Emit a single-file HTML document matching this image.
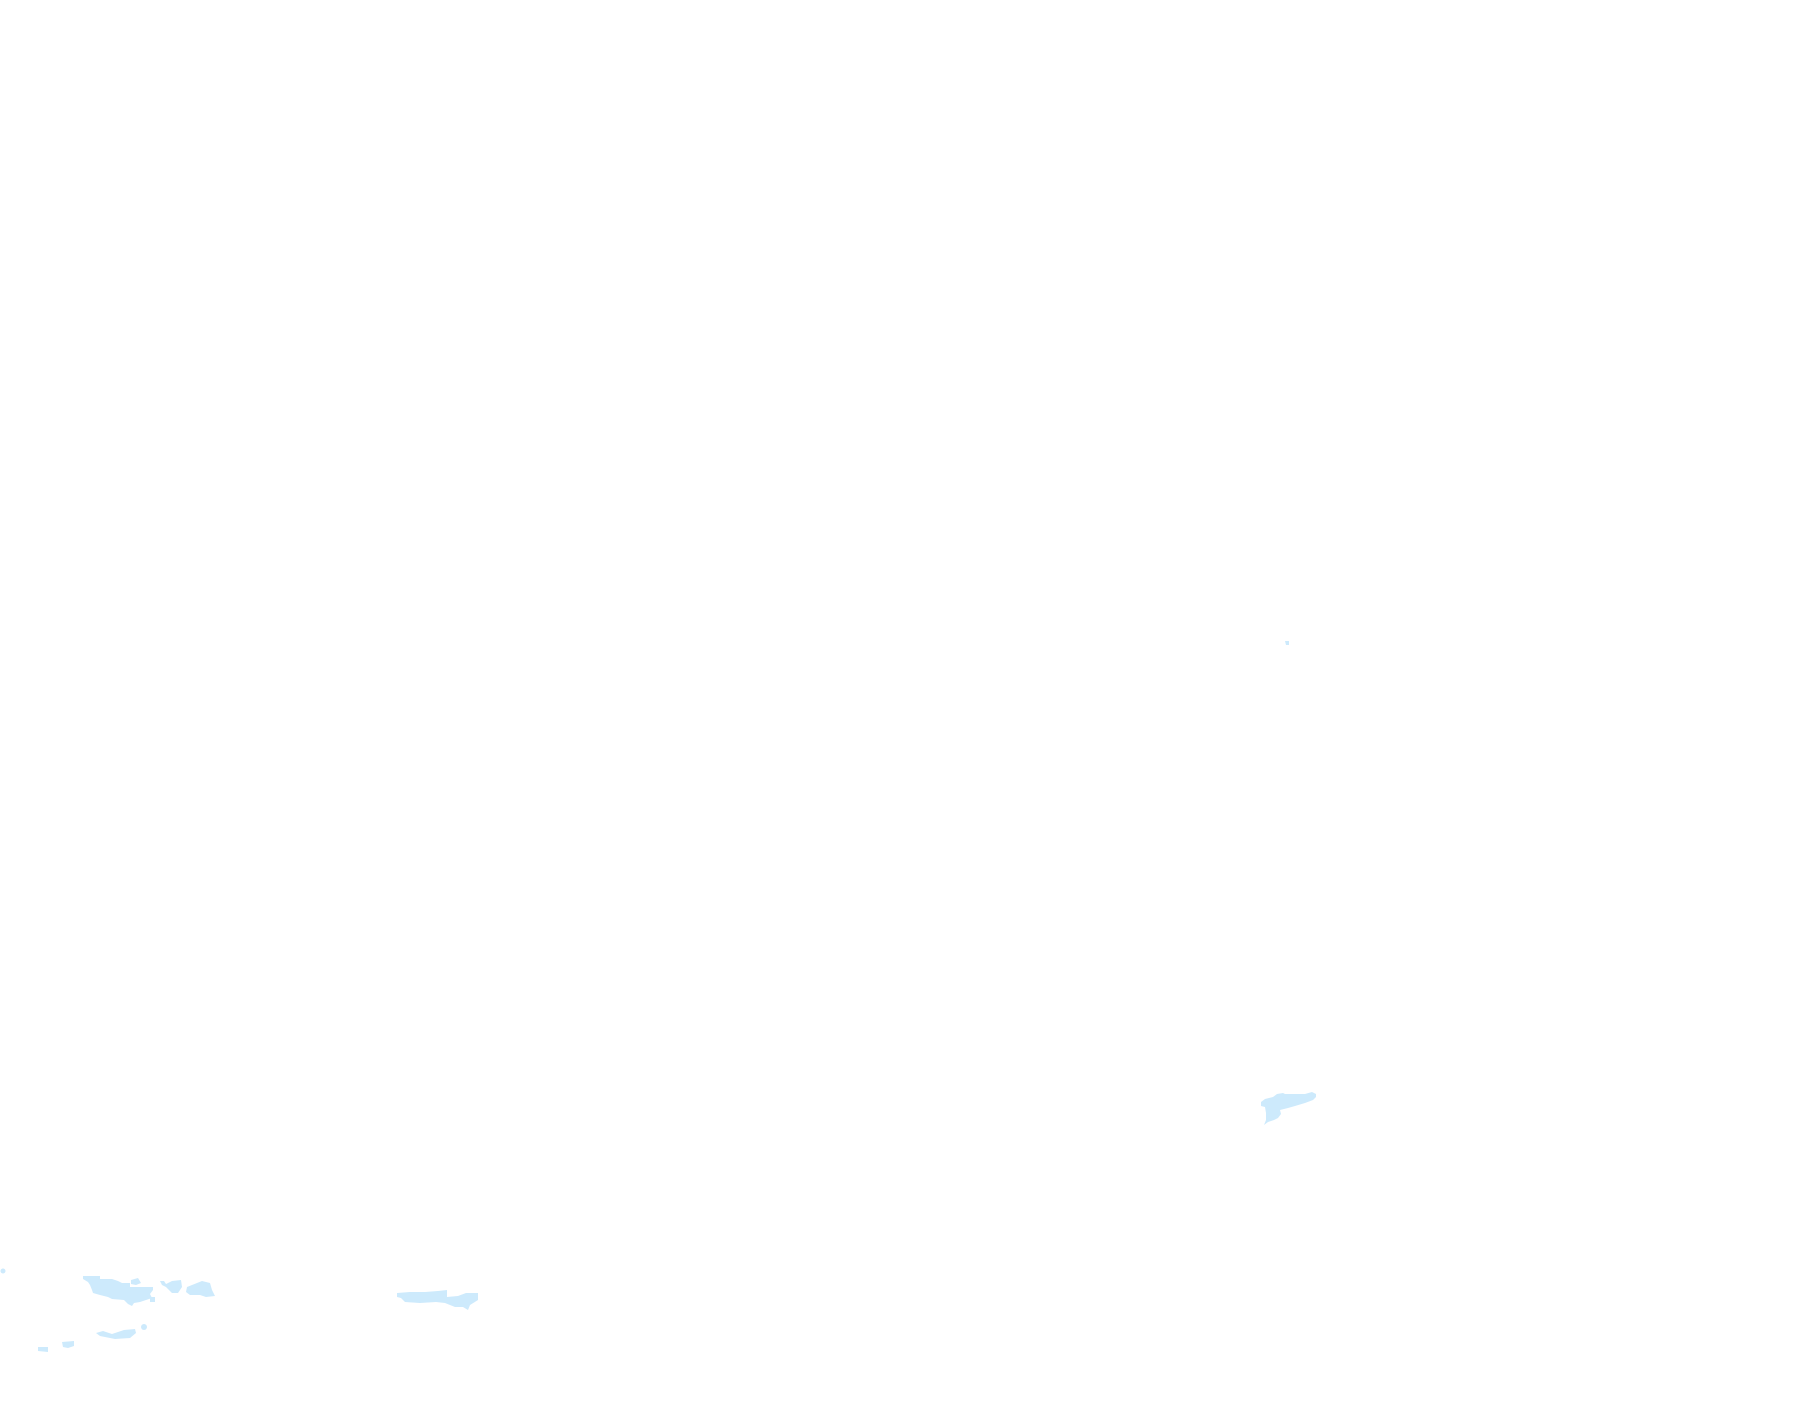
<!DOCTYPE html>
<html><head><meta charset="utf-8"><style>html,body{margin:0;padding:0;background:#fff;width:1815px;height:1424px;overflow:hidden}</style></head>
<body>
<svg width="1815" height="1424" xmlns="http://www.w3.org/2000/svg" style="display:block">
<g fill="#cdeafc">
<circle cx="3" cy="1271" r="2.5"/>
<polygon points="83,1276 100,1276 100,1279 112,1279 118,1281 122,1283 130,1283 130,1287 153,1287 153,1290 150,1294 152,1298 146,1300 140,1302 134,1303 132,1306 128,1304 124,1300 112,1299 108,1297 100,1295 93,1293 92,1290 90,1285 88,1282 83,1279"/>
<polygon points="131,1280 138,1278 141,1283 136,1285 131,1284"/>
<polygon points="150,1297 155,1297 155,1302 150,1302"/>
<polygon points="160,1281 164,1281 166,1284 172,1281 181,1280 182,1287 178,1293 172,1293 166,1287 162,1285"/>
<polygon points="187,1287 202,1281 210,1283 212,1290 215,1296 206,1297 200,1295 190,1295 186,1292"/>
<polygon points="397,1293 410,1292 425,1292 438,1291 447,1290 447,1297 458,1296 466,1293 478,1293 478,1300 470,1305 468,1310 463,1307 455,1307 445,1303 436,1302 420,1303 405,1302 401,1298 397,1297"/>
<polygon points="96,1333 103,1331 112,1334 124,1330 135,1329 136,1333 130,1338 115,1339 100,1336"/>
<circle cx="144" cy="1327" r="3"/>
<polygon points="62,1342 74,1341 74,1346 68,1348 63,1347"/>
<polygon points="38,1347 48,1347 48,1352 38,1351"/>
<polygon points="1285,641 1289,641 1289,645 1286,645"/>
<polygon points="1261,1102 1265,1099 1273,1097 1277,1094 1283,1093 1285,1094 1305,1094 1312,1092 1316,1094 1316,1097 1313,1100 1305,1103 1295,1106 1288,1108 1280,1110 1281,1114 1278,1118 1274,1120 1268,1122 1264,1125 1266,1120 1266,1113 1265,1107 1261,1106"/>
</g>
</svg>
</body></html>
